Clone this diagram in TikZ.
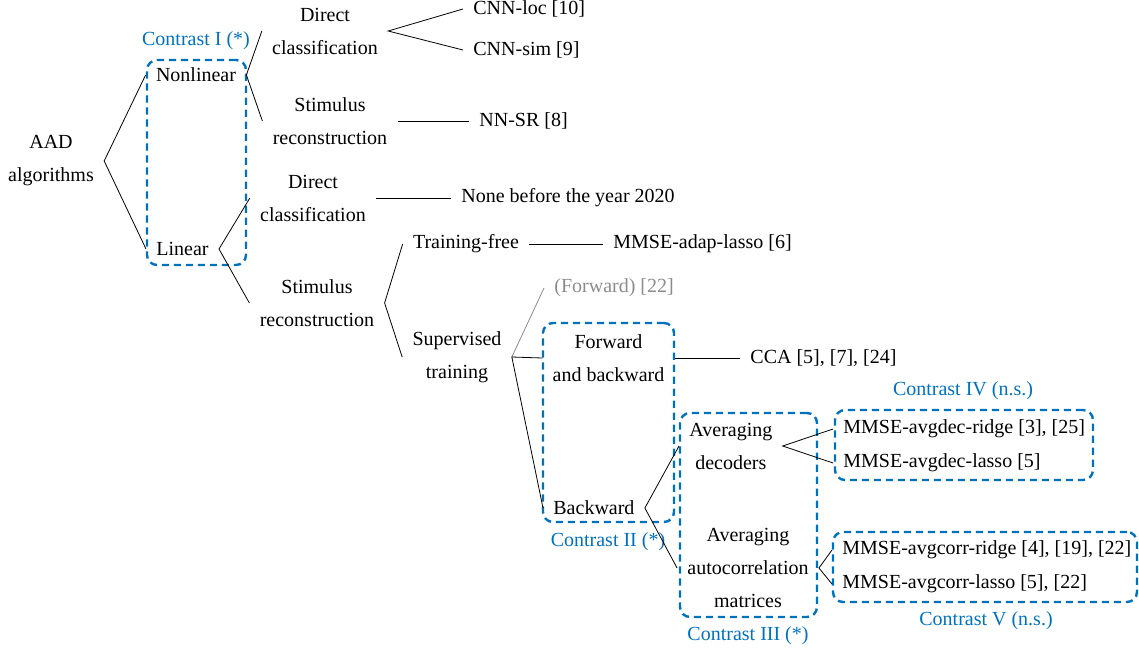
\documentclass[tikz,border=0pt]{standalone}
\usepackage{fontspec}
\setmainfont{Liberation Serif}
\definecolor{cblue}{RGB}{0,114,189}
\definecolor{cgray}{RGB}{140,140,140}
\begin{document}
\begin{tikzpicture}[x=0.5pt,y=-0.5pt,
  every node/.style={font=\fontsize{10}{16.5}\selectfont, inner xsep=5pt, inner ysep=2pt, align=center},
  leaf/.style={anchor=west},
  edge/.style={draw=black, line width=0.4pt},
  grayedge/.style={draw=cgray, line width=0.4pt},
  cbox/.style={draw=cblue, line width=1.2pt, dash pattern=on 3.6pt off 2.4pt, rounded corners=5pt, inner sep=0pt, minimum width=#1},
  clabel/.style={text=cblue}
]
\useasboundingbox (0,0) rectangle (1139,648);

% contrast boxes
\node[cbox=99*0.5pt, minimum height=205*0.5pt] (c1) at (196.5,162.5) {};
\node[cbox=131*0.5pt, minimum height=199*0.5pt] (c2) at (608.5,422.5) {};
\node[cbox=137*0.5pt, minimum height=204*0.5pt] (c3) at (748.5,515) {};
\node[cbox=258*0.5pt, minimum height=70*0.5pt] (c4) at (964,445) {};
\node[cbox=304*0.5pt, minimum height=70*0.5pt] (c5) at (985,567) {};

\node[clabel] (l1) at (196,41) {Contrast I (*)};
\node[clabel] (l2) at (608,542) {Contrast II (*)};
\node[clabel] (l3) at (748,636) {Contrast III (*)};
\node[clabel] (l4) at (963,391) {Contrast IV (n.s.)};
\node[clabel] (l5) at (986,621) {Contrast V (n.s.)};

% tree nodes
\node (aad) at (51,161) {AAD\\algorithms};
\node (nonlin) at (196,75) {Nonlinear};
\node (lin) at (182.5,249) {Linear};
\node (dc1) at (325,31) {Direct\\classification};
\node (sr1) at (330,121) {Stimulus\\reconstruction};
\node[leaf] (cnnloc) at (463,9) {CNN-loc [10]};
\node[leaf] (cnnsim) at (463,50) {CNN-sim [9]};
\node[leaf] (nnsr) at (469,0 |- sr1.east) {NN-SR [8]};
\node (dc2) at (313,198) {Direct\\classification};
\node (sr2) at (317,303) {Stimulus\\reconstruction};
\node[leaf] (none) at (451,0 |- dc2.east) {None before the year 2020};
\node (tf) at (466,244) {Training-free};
\node[leaf] (adap) at (603,0 |- tf.east) {MMSE-adap-lasso [6]};
\node (sup) at (457,357) {Supervised\\training};
\node[leaf, text=cgray] (fwd) at (544,288) {(Forward) [22]};
\node (fb) at (608.5,358) {Forward\\and backward};
\node[leaf] (bw) at (543,508) {Backward};
\node[leaf] (cca) at (740,0 |- fb.east) {CCA [5], [7], [24]};
\node[leaf] (avgdec) at (679,446) {Averaging\\decoders};
\node (avgac) at (748,568) {Averaging\\autocorrelation\\matrices};
\node[leaf] (decridge) at (833,429) {MMSE-avgdec-ridge [3], [25]};
\node[leaf] (declasso) at (833,463) {MMSE-avgdec-lasso [5]};
\node[leaf] (acridge) at (832,550) {MMSE-avgcorr-ridge [4], [19], [22]};
\node[leaf] (aclasso) at (832,584) {MMSE-avgcorr-lasso [5], [22]};

% connectors
\draw[edge] (nonlin.west) -- (aad.east) -- (lin.west);
\draw[edge] (dc1.west) -- (nonlin.east) -- (sr1.west);
\draw[edge] (cnnloc.west) -- (dc1.east) -- (cnnsim.west);
\draw[edge] (sr1.east) -- (nnsr.west);
\draw[edge] (dc2.west) -- (lin.east) -- (sr2.west);
\draw[edge] (dc2.east) -- (none.west);
\draw[edge] (tf.west) -- (sr2.east) -- (sup.west);
\draw[edge] (tf.east) -- (adap.west);
\draw[grayedge] (sup.east) -- (fwd.west);
\draw[edge] (fb.west) -- (sup.east) -- (bw.west);
\draw[edge] (fb.east) -- (cca.west);
\draw[edge] (avgdec.west) -- (bw.east) -- (avgac.west);
\draw[edge] (decridge.west) -- (avgdec.east) -- (declasso.west);
\draw[edge] (acridge.west) -- (avgac.east) -- (aclasso.west);
\end{tikzpicture}
\end{document}
